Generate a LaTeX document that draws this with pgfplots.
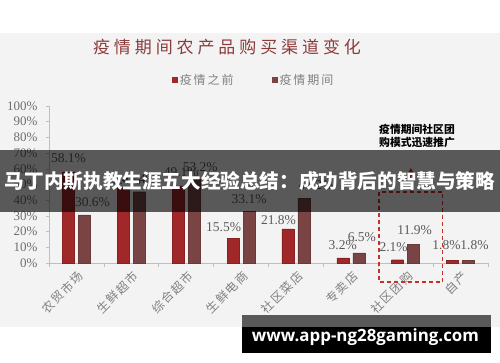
\documentclass[border=0pt]{standalone}
\usepackage{fontspec}
\setmainfont{Liberation Serif}
\newfontfamily\cjk{Noto Sans CJK SC}
\newfontfamily\cjktitle[LetterSpace=23]{Noto Sans CJK SC}
\newfontfamily\cjklegend[LetterSpace=16]{Noto Sans CJK SC}
\newfontfamily\cjktick[LetterSpace=12]{Noto Sans CJK SC}
\newfontfamily\wmfont{Open Sans}
\usepackage{pgfplots}
\usepackage{pgfplotstable}
\pgfplotsset{compat=1.18}
\usetikzlibrary{arrows.meta}
\definecolor{barA}{HTML}{A02828}
\definecolor{barB}{HTML}{7A4444}
\definecolor{bgg}{HTML}{F3F3F3}
\definecolor{titlec}{HTML}{8C3B3B}
\definecolor{lbl}{HTML}{5A5A5A}
\definecolor{tickc}{HTML}{6E6E6E}
\definecolor{legc}{HTML}{808080}
\definecolor{axc}{HTML}{BFBFBF}
\definecolor{dashc}{HTML}{C8302B}

\pgfplotstableread{
x y dx dy
0 58.1 0 14
1 48.4 0 7
2 49.1 3 14
3 15.5 -9.5 12
4 21.8 -9.5 9
5 3.2 0 13
6 2.1 -4 13
7 1.8 -6 15
}\before
\pgfplotstableread{
x y dx dy
0 30.6 8 13
1 45.4 0 13
2 53.2 6 12.5
3 33.1 0 12
4 41.2 12 13
5 6.5 3 16
6 11.9 1 14
7 1.8 6 15
}\during

\begin{document}
\begin{tikzpicture}[x=1pt,y=1pt]
\path[use as bounding box] (0,0) rectangle (500,362);
\fill[white] (0,0) rectangle (500,362);
\fill[bgg] (0,35) rectangle (500,329);
\node[text=titlec, font=\cjktitle\fontsize{17}{17}\selectfont] at (227,315) {疫情期间农产品购买渠道变化};

\begin{axis}[
  at={(49pt,99pt)}, anchor=south west, scale only axis,
  width=439pt, height=157pt,
  xmin=-0.5, xmax=7.5, ymin=0, ymax=100,
  axis x line*=bottom, axis y line*=left,
  axis line style={axc, line width=0.6pt, -},
  xtick={0,...,7},
  xticklabels={农贸市场,生鲜超市,综合超市,生鲜电商,社区菜店,专卖店,社区团购,自产},
  major x tick style={draw=none},
  minor xtick={-0.5,0.5,...,7.5},
  minor tick length=4pt, major tick length=3pt,
  tick align=outside,
  every tick/.style={axc, line width=0.6pt},
  ytick={0,10,...,100},
  yticklabel={\pgfmathprintnumber{\tick}\%},
  /pgf/number format/assume math mode=true,
  x tick label style={font=\cjktick\fontsize{12}{12}\selectfont, text=legc, rotate=45, anchor=east, yshift=-9pt, xshift=1pt},
  y tick label style={font=\fontsize{13}{13}\selectfont, text=tickc, xshift=-5pt},
  ybar=4pt, bar width=12pt,
  clip=false,
  visualization depends on={\thisrow{dx} \as \dx},
  visualization depends on={\thisrow{dy} \as \dy},
  nodes near coords={\pgfmathprintnumber[fixed,fixed zerofill,precision=1]{\pgfplotspointmeta}\%},
  nodes near coords style={font=\fontsize{13.5}{13.5}\selectfont, text=lbl, anchor=center, inner sep=0pt, xshift=\dx pt, yshift=\dy pt},
  legend style={at={(0.466,1.166)}, anchor=center, draw=none, fill=none,
    font=\cjklegend\fontsize{12}{12}\selectfont, text=legc,
    /tikz/every even column/.append style={column sep=36pt}},
  legend columns=2,
  legend image code/.code={\draw[#1,draw=none] (0pt,-3pt) rectangle (6pt,3pt);},
]
\addplot[fill=barA, draw=barA!85!black, line width=0.4pt] table[x=x,y=y] {\before};
\addlegendentry{疫情之前}
\addplot[fill=barB, draw=barB!85!black, line width=0.4pt] table[x=x,y=y] {\during};
\addlegendentry{疫情期间}
\draw[dashc, line width=1.3pt, dash pattern=on 4pt off 3pt] (axis cs:5.511,45.2) rectangle (axis cs:6.677,-12.1);
\draw[dashc, line width=1.3pt, dash pattern=on 4pt off 3pt, -{Triangle[width=9pt,length=8pt]}] (axis cs:6.094,45.2) -- (axis cs:6.094,60.5);
\end{axis}

\node[font=\cjk\bfseries\fontsize{10.8}{13}\selectfont, align=center, text=black] at (417,226.5) {疫情期间社区团\\购模式迅速推广};

% banner overlay
\fill[black, opacity=0.63] (0,150) rectangle (500,212);
\node[text=white, font=\cjk\bfseries\fontsize{19.6}{20}\selectfont] at (250,181) {马丁内斯执教生涯五大经验总结：成功背后的智慧与策略};

% watermark
\fill[black, opacity=0.63] (242,34) rectangle (491,47);
\fill[black] (242,9) rectangle (491,35);
\node[text=white, inner sep=0pt] at (365.5,25) {\resizebox{227pt}{!}{\wmfont\bfseries www.app-ng28gaming.com}};
\end{tikzpicture}
\end{document}
